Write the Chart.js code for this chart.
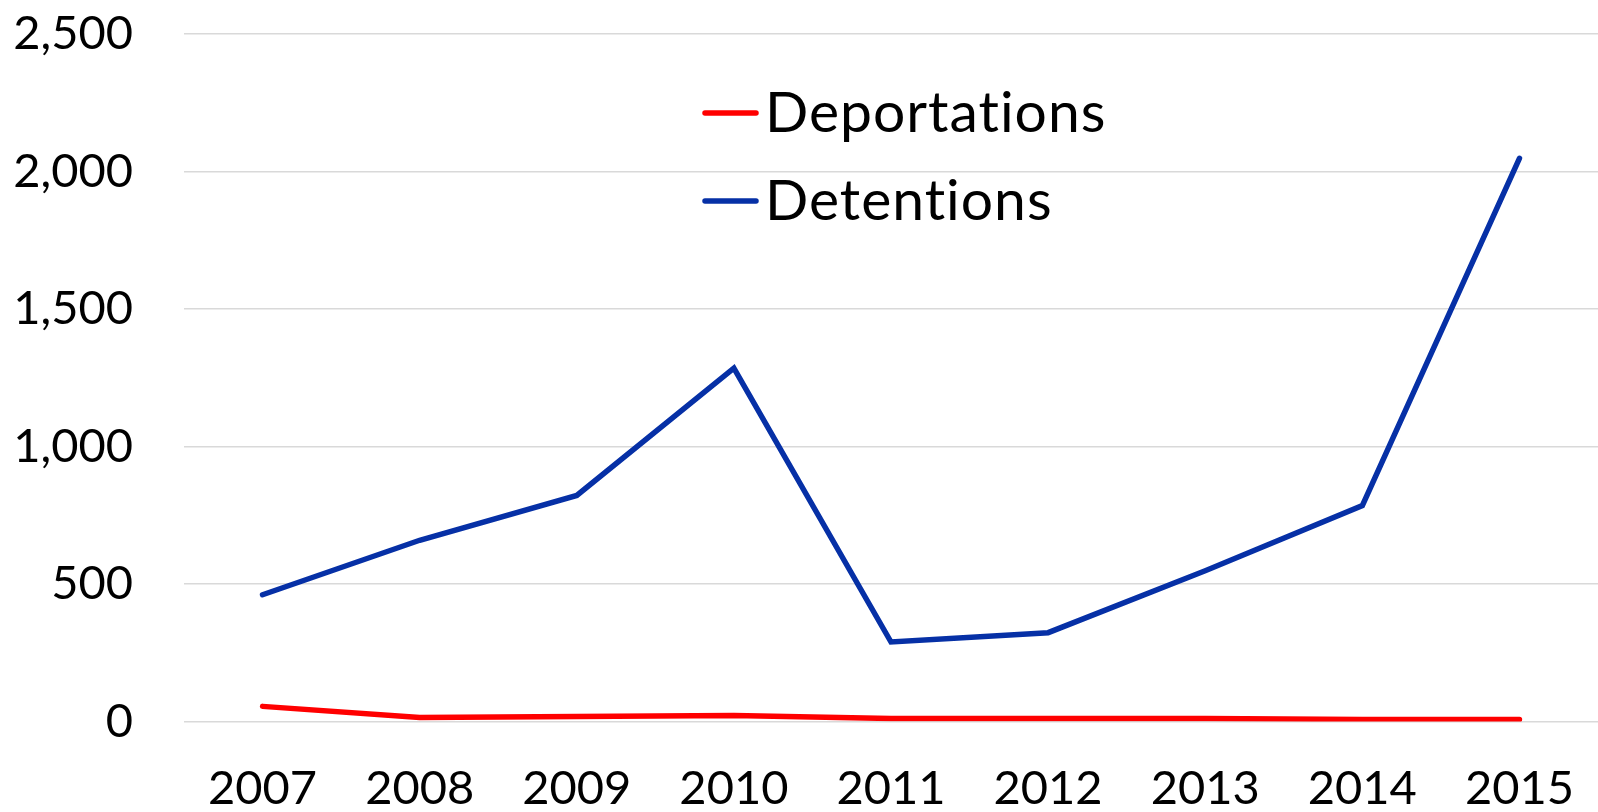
<!DOCTYPE html>
<html>
<head>
<meta charset="utf-8">
<script src="https://cdn.jsdelivr.net/npm/chart.js@4/dist/chart.umd.min.js"></script>
<style>
  html, body { margin: 0; padding: 0; background: #ffffff; }
  #wrap { width: 1598px; height: 812px; }
</style>
</head>
<body>
<div id="wrap"><canvas id="c" width="1598" height="812"></canvas></div>
<script>
// ---- data ----
const years = ['2007', '2008', '2009', '2010', '2011', '2012', '2013', '2014', '2015'];
const deportations = [55, 15, 18, 22, 11, 11, 11, 7, 7];
const detentions = [461, 659, 822, 1285, 289, 323, 548, 785, 2048];
const yTicks = [0, 500, 1000, 1500, 2000, 2500];
const seriesNames = ['Deportations', 'Detentions'];

const RED = '#FF0000';
const BLUE = '#0630A6';
const FONT = 'Lato, "Open Sans", sans-serif';

const legendPlugin = {
  id: 'innerLegend',
  afterDraw(chart) {
    const ctx = chart.ctx;
    const items = chart.data.datasets;
    const rows = [113, 201];
    ctx.save();
    items.forEach((ds, i) => {
      const y = rows[i];
      ctx.strokeStyle = ds.borderColor;
      ctx.lineWidth = 5.5;
      ctx.lineCap = 'round';
      ctx.beginPath();
      ctx.moveTo(705, y);
      ctx.lineTo(756, y);
      ctx.stroke();
      ctx.fillStyle = '#000000';
      ctx.font = '57px ' + FONT;
      try { ctx.letterSpacing = '1px'; } catch (e) {}
      ctx.textBaseline = 'alphabetic';
      ctx.textAlign = 'left';
      ctx.fillText(ds.label, 765, y + 19);
    });
    ctx.restore();
  }
};

new Chart(document.getElementById('c'), {
  type: 'line',
  data: {
    labels: years,
    datasets: [
      {
        label: seriesNames[0],
        data: deportations,
        borderColor: RED,
        backgroundColor: RED,
        borderWidth: 5.5,
        borderCapStyle: 'round',
        pointRadius: 0,
        tension: 0,
        fill: false
      },
      {
        label: seriesNames[1],
        data: detentions,
        borderColor: BLUE,
        backgroundColor: BLUE,
        borderWidth: 5.5,
        borderCapStyle: 'round',
        pointRadius: 0,
        tension: 0,
        fill: false
      }
    ]
  },
  options: {
    responsive: false,
    animation: false,
    devicePixelRatio: 1,
    layout: { padding: { top: 34, left: 0, right: 0, bottom: 0 } },
    plugins: {
      legend: { display: false },
      tooltip: { enabled: false },
      title: { display: false }
    },
    scales: {
      x: {
        offset: true,
        grid: { display: false, drawTicks: false },
        border: { display: false },
        ticks: {
          color: '#000000',
          font: { family: FONT, size: 47 },
          padding: 39,
          maxRotation: 0,
          autoSkip: false
        },
        afterFit(scale) { scale.height = 90.5; scale.paddingLeft = 0; scale.paddingRight = 0; }
      },
      y: {
        min: 0,
        max: 2500,
        afterBuildTicks(scale) { scale.ticks = yTicks.map(v => ({ value: v })); },
        grid: { color: '#D9D9D9', lineWidth: 1.5, drawTicks: false },
        border: { display: false },
        ticks: {
          color: '#000000',
          font: { family: FONT, size: 47 },
          padding: 51,
          callback: (v) => v.toLocaleString('en-US')
        },
        afterFit(scale) { scale.width = 184; scale.paddingTop = 0; scale.paddingBottom = 0; }
      }
    }
  },
  plugins: [legendPlugin]
});
</script>
</body>
</html>
